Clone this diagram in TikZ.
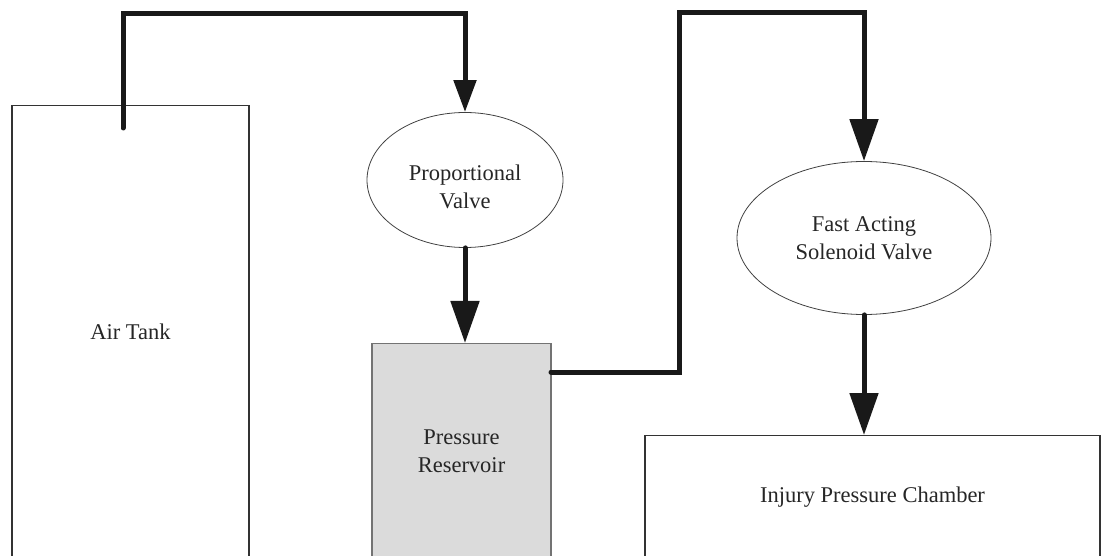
\documentclass[tikz,border=0pt]{standalone}
\usepackage{fontspec}
\setmainfont{Liberation Serif}
\usepackage{tikz}
\usetikzlibrary{arrows.meta,shapes.geometric}

\begin{document}
\begin{tikzpicture}[x=1pt, y=-1pt,
  every node/.style={font=\fontsize{22.5}{28}\selectfont, text=black!85, inner sep=0pt, align=center},
  tank/.style={draw=black!80, line width=1.3pt, anchor=north},
  valve/.style={ellipse, draw=black!75, line width=0.8pt},
  pipe/.style={line width=5pt, draw=black!90, line cap=round, -{Triangle[length=42pt,width=28pt]}}]
  \useasboundingbox (0,0) rectangle (1101,556);
  \clip (0,0) rectangle (1101,556);

  \node[tank, minimum width=237pt, minimum height=453pt] (air) at (130.5,105) {Air Tank};
  \node[valve, minimum width=196pt, minimum height=135pt] (pv) at (465,180) {\rule{0pt}{29pt}Proportional\\Valve};
  \node[tank, minimum width=179pt, minimum height=215pt, fill=black!14, draw=black!55] (res) at (461.5,343) {Pressure\\Reservoir};
  \node[valve, minimum width=254pt, minimum height=153pt] (sv) at (864,238) {Fast Acting\\Solenoid Valve};
  \node[tank, minimum width=455pt, minimum height=123pt] (ch) at (872.5,435) {Injury Pressure Chamber};

  \coordinate (airout) at (123,128);
  \coordinate (resout) at (551,372);

  \draw[pipe, -{Triangle[length=32pt,width=22pt]}] (airout) -- (123,14) -| (pv.north);
  \draw[pipe] (pv.south) -- (pv.south |- res.north);
  \draw[pipe] (resout) -| (679,13) -| (sv.north);
  \draw[pipe] (sv.south) -- (sv.south |- ch.north);
\end{tikzpicture}
\end{document}
